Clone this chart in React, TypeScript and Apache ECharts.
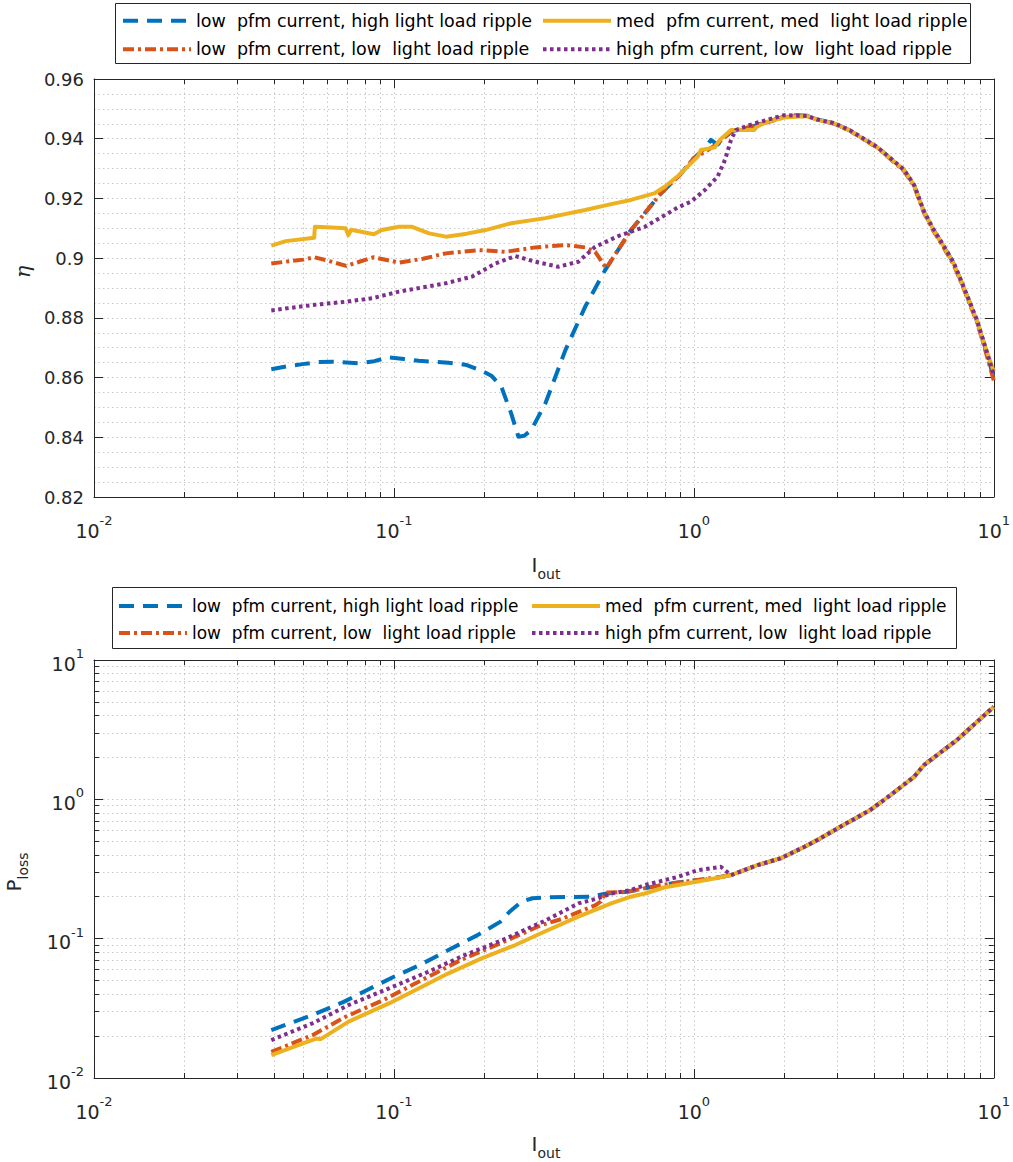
import React, { useEffect, useRef } from 'react';
import * as echarts from 'echarts';

// ---------- series names ----------
const S1 = 'low  pfm current, high light load ripple';
const S2 = 'low  pfm current, low  light load ripple';
const S3 = 'med  pfm current, med  light load ripple';
const S4 = 'high pfm current, low  light load ripple';

// ---------- efficiency (top) ----------
const effX1 = [0.039, 0.044, 0.0496, 0.056, 0.0623, 0.0764, 0.086, 0.096, 0.108, 0.121, 0.152, 0.175, 0.196, 0.212, 0.228, 0.246, 0.26, 0.272, 0.287, 0.32, 0.373, 0.434, 0.506, 0.617, 0.777, 0.9, 1.0, 1.08, 1.14, 1.2, 1.33, 1.5, 1.76, 2.0, 2.2, 2.39, 2.58, 2.94, 3.32, 4.09, 5.02, 5.42, 5.85, 6.3, 6.82, 7.35, 7.92, 8.77, 9.2, 10];
const effY1 = [0.8628, 0.8638, 0.8645, 0.8652, 0.8653, 0.8648, 0.8655, 0.8668, 0.8662, 0.8656, 0.865, 0.8642, 0.8623, 0.8605, 0.857, 0.848, 0.8402, 0.8405, 0.8424, 0.8514, 0.8692, 0.8837, 0.896, 0.9094, 0.9217, 0.928, 0.9335, 0.9365, 0.9396, 0.938, 0.9425, 0.9435, 0.9457, 0.9474, 0.9479, 0.9477, 0.9465, 0.9451, 0.9427, 0.9371, 0.9295, 0.9245, 0.9155, 0.9094, 0.9038, 0.8983, 0.8904, 0.8793, 0.8726, 0.86];

const effX2 = [0.039, 0.045, 0.05, 0.0542, 0.06, 0.0693, 0.0857, 0.104, 0.125, 0.149, 0.192, 0.235, 0.296, 0.373, 0.434, 0.469, 0.51, 0.617, 0.777, 0.9, 1.0, 1.09, 1.2, 1.33, 1.5, 1.76, 2.0, 2.2, 2.39, 2.58, 2.94, 3.32, 4.09, 5.02, 5.42, 5.85, 6.3, 6.82, 7.35, 7.92, 8.77, 9.2, 10];
const effY2 = [0.8982, 0.899, 0.8995, 0.9003, 0.8992, 0.8974, 0.9003, 0.8985, 0.8998, 0.9016, 0.9027, 0.9021, 0.9036, 0.9044, 0.9036, 0.9021, 0.8966, 0.9094, 0.9217, 0.928, 0.9335, 0.9356, 0.9384, 0.9423, 0.9437, 0.9455, 0.9472, 0.9476, 0.9475, 0.9465, 0.945, 0.9426, 0.937, 0.9292, 0.9242, 0.9152, 0.909, 0.9034, 0.8978, 0.89, 0.8788, 0.872, 0.859];

const effX3 = [0.039, 0.0436, 0.0542, 0.0545, 0.062, 0.069, 0.0705, 0.072, 0.0857, 0.091, 0.104, 0.115, 0.131, 0.149, 0.175, 0.202, 0.246, 0.32, 0.434, 0.53, 0.617, 0.742, 0.8, 0.885, 1.03, 1.055, 1.174, 1.22, 1.33, 1.59, 1.62, 1.76, 2.0, 2.39, 2.58, 2.94, 3.32, 4.09, 5.02, 5.42, 5.85, 6.3, 6.82, 7.35, 7.92, 8.77, 9.2, 10];
const effY3 = [0.9042, 0.9057, 0.9068, 0.9105, 0.9103, 0.91, 0.9077, 0.9095, 0.908, 0.9094, 0.9105, 0.9105, 0.9083, 0.9072, 0.9082, 0.9094, 0.9117, 0.9134, 0.9161, 0.9181, 0.9195, 0.9218, 0.9239, 0.9275, 0.934, 0.9362, 0.9371, 0.9396, 0.9429, 0.9429, 0.944, 0.9457, 0.9471, 0.9476, 0.9463, 0.9451, 0.9427, 0.9371, 0.9295, 0.9245, 0.9155, 0.9094, 0.9038, 0.8983, 0.8904, 0.8793, 0.8726, 0.862];

const effX4 = [0.039, 0.0535, 0.069, 0.085, 0.104, 0.128, 0.149, 0.182, 0.218, 0.254, 0.296, 0.353, 0.412, 0.469, 0.56, 0.687, 0.885, 0.977, 1.088, 1.2, 1.27, 1.33, 1.38, 1.59, 2.0, 2.39, 2.58, 2.94, 3.32, 4.09, 5.02, 5.42, 5.85, 6.3, 6.82, 7.35, 7.92, 8.77, 9.2, 10];
const effY4 = [0.8825, 0.8843, 0.8854, 0.8866, 0.8888, 0.8904, 0.8916, 0.8938, 0.8982, 0.9007, 0.8988, 0.8971, 0.8988, 0.9038, 0.9074, 0.9105, 0.917, 0.9189, 0.9228, 0.9273, 0.9329, 0.9396, 0.9429, 0.9451, 0.9479, 0.9476, 0.9464, 0.9452, 0.9428, 0.9372, 0.9296, 0.9246, 0.9157, 0.9096, 0.904, 0.8985, 0.8906, 0.8795, 0.8728, 0.861];

// ---------- power loss (bottom) ----------
const lossX1 = [0.039, 0.0535, 0.068, 0.0814, 0.1, 0.122, 0.152, 0.19, 0.226, 0.243, 0.266, 0.29, 0.33, 0.45, 0.506, 0.6, 0.7, 0.85, 1.0, 1.1, 1.2, 1.33, 1.63, 1.945, 2.34, 2.58, 3.08, 3.87, 4.52, 5.42, 5.85, 7.54, 10];
const lossY1 = [0.0221, 0.0283, 0.0352, 0.0428, 0.0533, 0.0647, 0.0829, 0.106, 0.132, 0.156, 0.184, 0.195, 0.198, 0.2, 0.21, 0.217, 0.232, 0.25, 0.262, 0.266, 0.275, 0.286, 0.337, 0.377, 0.457, 0.51, 0.636, 0.837, 1.07, 1.45, 1.76, 2.67, 4.62];

const lossX2 = [0.039, 0.0535, 0.069, 0.092, 0.124, 0.167, 0.226, 0.31, 0.361, 0.47, 0.49, 0.506, 0.6, 0.7, 0.85, 1.0, 1.2, 1.33, 1.63, 1.945, 2.34, 2.58, 3.08, 3.87, 4.52, 5.42, 5.85, 7.54, 10];
const lossY2 = [0.0154, 0.0203, 0.0275, 0.0362, 0.0505, 0.0702, 0.0925, 0.125, 0.138, 0.174, 0.185, 0.214, 0.217, 0.232, 0.25, 0.262, 0.275, 0.286, 0.337, 0.377, 0.457, 0.51, 0.636, 0.837, 1.07, 1.45, 1.76, 2.67, 4.62];

const lossX3 = [0.039, 0.05, 0.0551, 0.057, 0.0706, 0.0963, 0.124, 0.152, 0.196, 0.254, 0.32, 0.412, 0.53, 0.617, 0.687, 0.8, 0.885, 1.03, 1.17, 1.33, 1.63, 1.945, 2.34, 2.58, 3.08, 3.87, 4.52, 5.42, 5.85, 7.54, 10];
const lossY3 = [0.0146, 0.0178, 0.0192, 0.019, 0.0254, 0.0343, 0.0452, 0.0564, 0.0722, 0.09, 0.113, 0.144, 0.179, 0.2, 0.211, 0.234, 0.243, 0.257, 0.27, 0.286, 0.337, 0.377, 0.457, 0.51, 0.636, 0.837, 1.07, 1.45, 1.76, 2.67, 4.62];

const lossX4 = [0.039, 0.0535, 0.0706, 0.0963, 0.13, 0.172, 0.23, 0.32, 0.412, 0.48, 0.53, 0.617, 0.687, 0.8, 0.885, 1.03, 1.23, 1.33, 1.63, 1.945, 2.34, 2.58, 3.08, 3.87, 4.52, 5.42, 5.85, 7.54, 10];
const lossY4 = [0.0187, 0.0247, 0.0334, 0.044, 0.0578, 0.0762, 0.0977, 0.135, 0.179, 0.195, 0.211, 0.223, 0.243, 0.263, 0.278, 0.31, 0.328, 0.286, 0.337, 0.377, 0.457, 0.51, 0.636, 0.837, 1.07, 1.45, 1.76, 2.67, 4.62];

// ---------- styles ----------
const AX = '#262626';
const GRIDC = '#c8c8c8';
const FONT = 'DejaVu Sans';
const COLORS = ['#0072BD', '#D95319', '#EDB120', '#7E2F8E'];
const DASHES: any[] = [[15, 9], [11, 4, 3, 4], 'solid', [3.5, 3.5]];
const NAMES = [S1, S2, S3, S4];

const zip = (xs: number[], ys: number[]) => xs.map((x, i) => [x, ys[i]]);

const expLabel = (v: number) => {
  const e = Math.round(Math.log10(v));
  return `{b|10}{s|${e}}`;
};
const richLab = {
  b: { fontSize: 19, fontFamily: FONT, color: AX, lineHeight: 26, verticalAlign: 'bottom' },
  s: { fontSize: 13, fontFamily: FONT, color: AX, lineHeight: 13, verticalAlign: 'top' },
};

const gridLine = { lineStyle: { color: GRIDC, width: 1, type: [1.5, 3] } };

function logAxis(gridIndex: number, position: string, main: boolean, isY = false) {
  return {
    type: 'log',
    logBase: 10,
    gridIndex,
    position,
    min: 0.01,
    max: 10,
    axisLine: { show: true, onZero: false, lineStyle: { color: AX, width: 1 } },
    axisTick: { show: true, inside: true, length: 9, lineStyle: { color: AX, width: 1 } },
    minorTick: { show: true, splitNumber: 9, length: 5, lineStyle: { color: AX, width: 1 } },
    axisLabel: main
      ? { show: true, formatter: expLabel, rich: richLab, margin: isY ? 10 : 17, showMinLabel: true, showMaxLabel: true }
      : { show: false },
    splitLine: { show: main, ...gridLine },
    minorSplitLine: { show: main, ...gridLine },
  };
}

function linAxis(gridIndex: number, position: string, main: boolean) {
  return {
    type: 'value',
    gridIndex,
    position,
    min: 0.82,
    max: 0.96,
    interval: 0.02,
    axisLine: { show: true, onZero: false, lineStyle: { color: AX, width: 1 } },
    axisTick: { show: true, inside: true, length: 9, lineStyle: { color: AX, width: 1 } },
    minorTick: { show: false, splitNumber: 4 },
    axisLabel: main
      ? {
          show: true,
          margin: 10,
          fontSize: 18,
          fontFamily: FONT,
          color: AX,
          formatter: (v: number) => String(parseFloat(v.toFixed(2))),
        }
      : { show: false },
    splitLine: { show: main, ...gridLine },
    minorSplitLine: { show: main, ...gridLine },
  };
}

const effSets = [zip(effX1, effY1), zip(effX2, effY2), zip(effX3, effY3), zip(effX4, effY4)];
const lossSets = [zip(lossX1, lossY1), zip(lossX2, lossY2), zip(lossX3, lossY3), zip(lossX4, lossY4)];

function makeSeries(sets: number[][][], axisIdx: number) {
  return sets.map((data, i) => ({
    type: 'line',
    name: NAMES[i],
    xAxisIndex: axisIdx,
    yAxisIndex: axisIdx,
    data,
    showSymbol: false,
    symbol: 'none',
    smooth: false,
    lineStyle: { color: COLORS[i], width: 4, type: DASHES[i], cap: 'butt', join: 'round' },
    itemStyle: { color: COLORS[i] },
    z: 3 + i,
  }));
}

function legend(names: string[], left: number, top: number, gap: number, fs: number) {
  return {
    data: names,
    orient: 'vertical',
    left,
    top,
    padding: 0,
    itemWidth: 68,
    itemHeight: 14,
    itemGap: gap,
    selectedMode: false,
    itemStyle: { opacity: 0 },
    lineStyle: { width: 4 },
    textStyle: { fontSize: fs, fontFamily: FONT, color: '#000', lineHeight: 20 },
  };
}

const subRich = (size: number) => ({
  m: { fontSize: size, fontFamily: FONT, fill: AX, lineHeight: 26, verticalAlign: 'top' },
  s: { fontSize: 14, fontFamily: FONT, fill: AX, lineHeight: 14, verticalAlign: 'bottom' },
});

const option: any = {
  animation: false,
  backgroundColor: '#ffffff',
  grid: [
    { left: 94, top: 79, width: 903, height: 418, containLabel: false },
    { left: 94, top: 660, width: 903, height: 418, containLabel: false },
  ],
  xAxis: [
    logAxis(0, 'bottom', true),
    logAxis(1, 'bottom', true),
    logAxis(0, 'top', false),
    logAxis(1, 'top', false),
  ],
  yAxis: [
    linAxis(0, 'left', true),
    logAxis(1, 'left', true, true),
    linAxis(0, 'right', false),
    logAxis(1, 'right', false, true),
  ],
  legend: [
    legend([S1, S2], 121, 10.7, 8.6, 17.5),
    legend([S3, S4], 541, 10.7, 8.6, 17.5),
    legend([S1, S2], 117, 596, 7, 17),
    legend([S3, S4], 530, 596, 7, 17),
  ],
  series: [...makeSeries(effSets, 0), ...makeSeries(lossSets, 1)],
  graphic: [
    { type: 'rect', z: 0, shape: { x: 115.5, y: 3.5, width: 855, height: 60 }, style: { fill: '#fff', stroke: AX, lineWidth: 1 } },
    { type: 'rect', z: 0, shape: { x: 112.5, y: 587.5, width: 844, height: 61 }, style: { fill: '#fff', stroke: AX, lineWidth: 1 } },
    {
      type: 'text', x: 23, y: 272, rotation: Math.PI / 2,
      style: { text: 'η', font: 'italic 21px "DejaVu Serif"', fill: AX, align: 'center', verticalAlign: 'middle' },
    },
    {
      type: 'text', x: 546, y: 568,
      style: { text: '{m|I}{s|out}', rich: subRich(20), align: 'center', verticalAlign: 'middle' },
    },
    {
      type: 'text', x: 546, y: 1147,
      style: { text: '{m|I}{s|out}', rich: subRich(20), align: 'center', verticalAlign: 'middle' },
    },
    {
      type: 'text', x: 17, y: 872, rotation: Math.PI / 2,
      style: { text: '{m|P}{s|loss}', rich: subRich(20), align: 'center', verticalAlign: 'middle' },
    },
  ],
};

export default function App() {
  const ref = useRef<HTMLDivElement>(null);
  useEffect(() => {
    document.body.style.margin = '0';
    const chart = echarts.init(ref.current as HTMLDivElement, null, { renderer: 'svg' });
    chart.setOption(option);
    return () => chart.dispose();
  }, []);
  return <div ref={ref} style={{ width: 1013, height: 1162, position: 'absolute', left: 0, top: 0 }} />;
}
